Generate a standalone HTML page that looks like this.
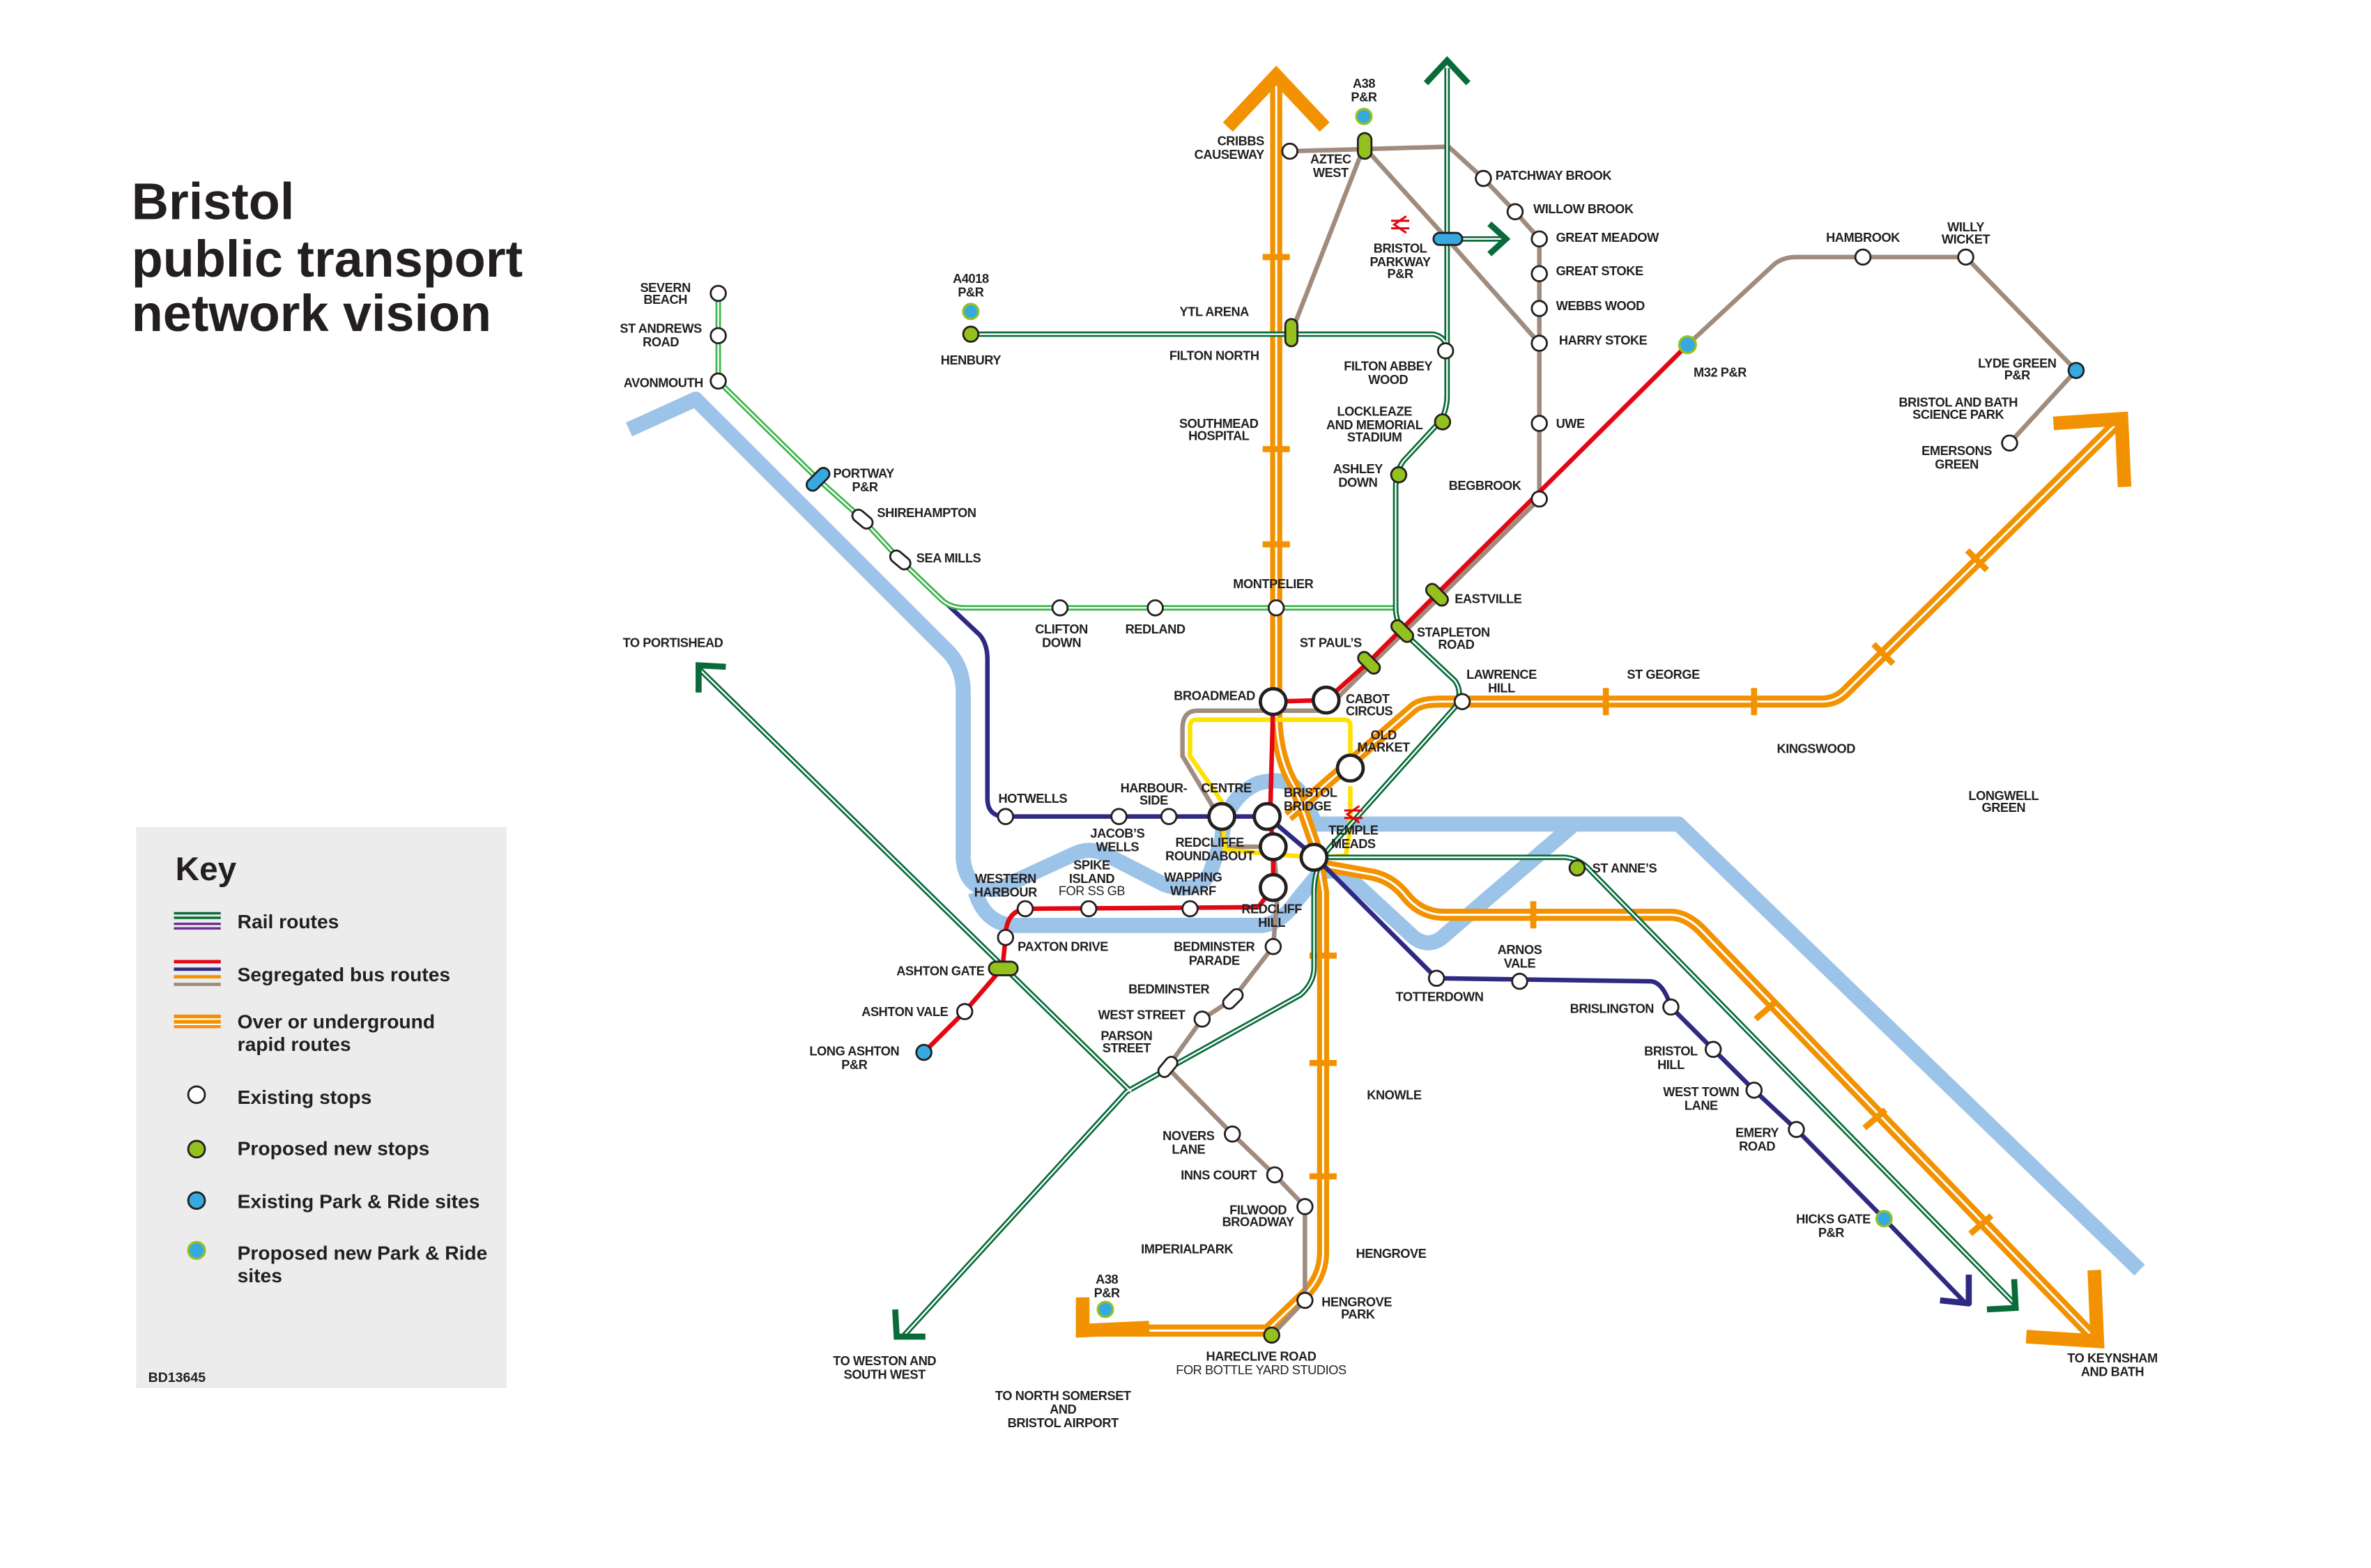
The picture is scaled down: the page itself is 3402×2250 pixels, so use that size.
<!DOCTYPE html>
<html><head><meta charset="utf-8"><style>
html,body{margin:0;padding:0;background:#fff;}
svg{display:block;}
text{font-family:"Liberation Sans",Arial,sans-serif;font-weight:bold;fill:#231f20;}
.l{font-size:8.4px;letter-spacing:-0.2px;}
.n{font-weight:normal;}
</style></head><body>
<svg width="3402" height="2250" viewBox="0 0 1568 1037" xmlns="http://www.w3.org/2000/svg">
<rect width="1568" height="1037" fill="#fff"/>
<defs>
<path id="rN" d="M844,55 L844,470 Q844,500 856,520 L870,560 L875,590 L875,828 Q875,845 862,857 L838,880 L716,880"/>
<path id="rE" d="M852,540 L935,468 Q940,464 952,464 L1205,464 Q1215,464 1222,456 L1400,280"/>
<path id="rSE" d="M872,572 L905,578 Q920,580 930,593 Q940,605 955,605 L1105,605 Q1115,605 1125,615 L1385,885"/>
<path id="gN" d="M957,45 L957,232 L957,262 Q957,270 953,278 L928,305 Q923,312 923,322 L923,402 Q923,412 930,420 L962,450 Q968,458 962,468 L880,560 Q869,572 869,590 L869,640 Q869,650 860,658 L745,722 L598,883"/>
<path id="gH" d="M642,221 L948,221 Q957,223 957,232"/>
<path id="gP" d="M462,442 L748,722"/>
<path id="gSE" d="M869,567 L1035,567 Q1045,568 1052,576 L1333,863"/>
<path id="gPW" d="M957,158 L995,158"/>
<path id="sev" d="M475,194 L475,252 L541,317 L570,343 L595,370 L622,396 Q628,402 638,402 L922,402"/>
</defs>

<!-- River -->
<g fill="none" stroke="#9cc3e8" stroke-width="10" stroke-linejoin="round">
<path d="M416,284 L460,264 L628,432 Q637,442 637,458 L637,568 Q639,590 660,588 L710,565 Q722,559 735,567 L770,585 Q790,592 800,578 L808,555 Q810,528 832,518 Q855,512 862,528 L870,545 L1110,545 L1415,840"/>
<path d="M645,590 Q652,612 672,612 L835,612 Q848,610 858,595 L872,578 Q884,572 896,584 L935,620 Q946,628 956,618 L1040,546"/>
</g>

<!-- Rapid orange -->
<g fill="none" stroke="#f39200" stroke-width="8" stroke-linejoin="round">
<use href="#rN"/><use href="#rE"/><use href="#rSE"/>
</g>
<g fill="none" stroke="#fff" stroke-width="1.4">
<use href="#rN"/><use href="#rE"/><use href="#rSE"/>
</g>
<g fill="none" stroke="#f39200" stroke-width="9">
<polyline points="812,84 844,50 876,84"/>
<polyline points="716,858 716,880 760,878"/>
<polyline points="1358,280 1403,277 1405,322"/>
<polyline points="1340,884 1387,887 1385,840"/>
</g>
<g stroke="#f39200" stroke-width="4">
<line x1="835" y1="170" x2="853" y2="170"/><line x1="835" y1="297" x2="853" y2="297"/><line x1="835" y1="360" x2="853" y2="360"/>
<line x1="866" y1="632" x2="884" y2="632"/><line x1="866" y1="703" x2="884" y2="703"/><line x1="866" y1="778" x2="884" y2="778"/>
<line x1="1062" y1="455" x2="1062" y2="473"/><line x1="1160" y1="455" x2="1160" y2="473"/>
<line x1="1239" y1="426" x2="1252" y2="439"/><line x1="1301" y1="364" x2="1314" y2="377"/>
<line x1="1014" y1="596" x2="1014" y2="614"/>
<line x1="1161" y1="674" x2="1175" y2="662"/><line x1="1233" y1="746" x2="1247" y2="734"/><line x1="1303" y1="816" x2="1317" y2="804"/>
</g>

<!-- Brown bus -->
<g fill="none" stroke="#a08c7e" stroke-width="3" stroke-linejoin="round">
<path d="M853,100 L958,97 L981,118 L1002,140 L1018,158 L1018,330 L888,458 L877,470 L792,470 Q782,470 782,482 L782,500 L806,540 L810,560 L842,560 L845,590 L842,626 L815,661 L795,674 L772,706 L815,750 L843,777 L863,798 L863,860 L841,883"/>
<path d="M902,97 L957,158 L1018,227"/>
<path d="M902,97 L854,220"/>
<path d="M1116,228 L1172,176 Q1178,170 1188,170 L1300,170 L1373,245 L1329,293"/>
</g>
<!-- Yellow loop -->
<g fill="none" stroke="#ffe000" stroke-width="3" stroke-linejoin="round">
<path d="M893,508 L893,480 Q893,476 889,476 L791,476 Q787,476 787,481 L787,500 L808,530 L810,562 L842,565 L870,567 L890,566 L893,548 L893,520"/>
</g>
<!-- Red bus -->
<g fill="none" stroke="#e30613" stroke-width="3" stroke-linejoin="round">
<path d="M1116,228 L950,393 L905,438 L877,463 L842,464 L840,540 L842,560 L842,587 L832,600 L678,601 Q665,603 665,620 L663,640 L638,669 L611,696"/>
</g>
<!-- Navy bus -->
<g fill="none" stroke="#2e2a82" stroke-width="3" stroke-linejoin="round">
<path d="M541,317 L570,343 L595,370 L648,420 Q653,426 653,436 L653,528 Q653,540 665,540 L838,540 L870,567 L950,647 L1092,649 Q1100,650 1105,666 L1133,694 L1160,721 L1188,747 L1246,806 L1300,862"/>
<polyline points="1283,860 1302,862 1302,843" fill="none" stroke="#2e2a82" stroke-width="4"/>
</g>

<!-- Rail green -->
<g fill="none" stroke="#3cb44b" stroke-width="3.6"><use href="#sev"/></g>
<g fill="none" stroke="#fff" stroke-width="1.1"><use href="#sev"/></g>
<g fill="none" stroke="#0a6b3a" stroke-width="3.6" stroke-linejoin="round">
<use href="#gN"/><use href="#gH"/><use href="#gP"/><use href="#gSE"/><use href="#gPW"/>
</g>
<g fill="none" stroke="#fff" stroke-width="1.1">
<use href="#gN"/><use href="#gH"/><use href="#gP"/><use href="#gSE"/><use href="#gPW"/>
</g>
<g fill="none" stroke="#0a6b3a" stroke-width="4">
<polyline points="943,55 957,40 971,55"/>
<polyline points="985,148 996,158 985,168"/>
<polyline points="462,458 462,440 480,441"/>
<polyline points="592,866 593,884 612,884"/>
<polyline points="1314,866 1333,865 1332,846"/>
</g>

<!-- Stops -->
<g fill="#fff" stroke="#231f20" stroke-width="1.3">
<circle cx="853" cy="100" r="5"/><circle cx="981" cy="118" r="5"/><circle cx="1002" cy="140" r="5"/><circle cx="1018" cy="158" r="5"/><circle cx="1018" cy="181" r="5"/><circle cx="1018" cy="204" r="5"/><circle cx="1018" cy="227" r="5"/><circle cx="1018" cy="280" r="5"/><circle cx="1018" cy="330" r="5"/>
<circle cx="956" cy="232" r="5"/><circle cx="475" cy="194" r="5"/><circle cx="475" cy="222" r="5"/><circle cx="475" cy="252" r="5"/>
<circle cx="701" cy="402" r="5"/><circle cx="764" cy="402" r="5"/><circle cx="844" cy="402" r="5"/><circle cx="967" cy="464" r="5"/>
<circle cx="665" cy="540" r="5"/><circle cx="740" cy="540" r="5"/><circle cx="773" cy="540" r="5"/>
<circle cx="678" cy="601" r="5"/><circle cx="720" cy="601" r="5"/><circle cx="787" cy="601" r="5"/><circle cx="665" cy="620" r="5"/>
<circle cx="638" cy="669" r="5"/><circle cx="842" cy="626" r="5"/><circle cx="795" cy="674" r="5"/>
<circle cx="950" cy="647" r="5"/><circle cx="1005" cy="649" r="5"/><circle cx="1105" cy="666" r="5"/><circle cx="1133" cy="694" r="5"/><circle cx="1160" cy="721" r="5"/><circle cx="1188" cy="747" r="5"/>
<circle cx="815" cy="750" r="5"/><circle cx="843" cy="777" r="5"/><circle cx="863" cy="798" r="5"/><circle cx="863" cy="860" r="5"/>
<circle cx="1232" cy="170" r="5"/><circle cx="1300" cy="170" r="5"/><circle cx="1329" cy="293" r="5"/>
<rect x="563" y="339" width="15" height="8" rx="4" transform="rotate(40 570 343)"/>
<rect x="588" y="366" width="15" height="8" rx="4" transform="rotate(40 595 370)"/>
<rect x="808" y="657" width="15" height="8" rx="4" transform="rotate(-45 815 661)"/>
<rect x="765" y="702" width="15" height="8" rx="4" transform="rotate(-50 772 706)"/>
</g>
<g fill="#fff" stroke="#231f20" stroke-width="2.2">
<circle cx="842" cy="464" r="8.5"/><circle cx="877" cy="463" r="8.5"/><circle cx="893" cy="508" r="8.5"/><circle cx="808" cy="540" r="8.5"/><circle cx="838" cy="540" r="8.5"/><circle cx="842" cy="560" r="8.5"/><circle cx="842" cy="587" r="8.5"/><circle cx="869" cy="567" r="8.5"/>
</g>
<g fill="#95c11f" stroke="#231f20" stroke-width="1.3">
<rect x="898" y="88" width="9" height="17" rx="4.5"/>
<rect x="850" y="211" width="8" height="18" rx="4"/>
<circle cx="642" cy="221" r="5"/><circle cx="954" cy="279" r="5"/><circle cx="925" cy="314" r="5"/><circle cx="1043" cy="574" r="5"/><circle cx="841" cy="883" r="5"/>
<rect x="942" y="389" width="17" height="8" rx="4" transform="rotate(45 950 393)"/>
<rect x="919" y="413" width="17" height="8" rx="4" transform="rotate(45 927 417)"/>
<rect x="897" y="434" width="17" height="8" rx="4" transform="rotate(45 905 438)"/>
<rect x="654" y="636" width="19" height="9" rx="4.5"/>
</g>
<g fill="#36a9e1" stroke="#231f20" stroke-width="1.3">
<rect x="948" y="154" width="19" height="8" rx="4"/>
<rect x="532" y="313" width="18" height="8" rx="4" transform="rotate(-45 541 317)"/>
<circle cx="611" cy="696" r="5"/><circle cx="1373" cy="245" r="5"/>
</g>
<g fill="#36a9e1" stroke="#95c11f" stroke-width="1.5">
<circle cx="902" cy="77" r="5"/><circle cx="642" cy="206" r="5"/><circle cx="1116" cy="228" r="5.5"/><circle cx="1246" cy="806" r="5"/><circle cx="731" cy="866" r="5"/>
</g>
<!-- rail symbols -->
<g stroke="#e30613" stroke-width="1.4" fill="none">
<path d="M920,146 L932,146 M920,151 L932,151 M930,143 L922,148.5 L930,154"/>
<path d="M889,536 L901,536 M889,541 L901,541 M899,533 L891,538.5 L899,544"/>
</g>

<!-- Title -->
<text x="87" y="145" font-size="34">Bristol</text>
<text x="87" y="183" font-size="34">public transport</text>
<text x="87" y="219" font-size="34">network vision</text>

<!-- Key -->
<rect x="90" y="547" width="245" height="371" fill="#ececec"/>
<text x="116" y="582" font-size="22">Key</text>
<g stroke-width="1.6">
<line x1="115" y1="604" x2="146" y2="604" stroke="#0a6b3a"/><line x1="115" y1="607" x2="146" y2="607" stroke="#0a6b3a"/>
<line x1="115" y1="611" x2="146" y2="611" stroke="#6a2c91"/><line x1="115" y1="614" x2="146" y2="614" stroke="#6a2c91"/>
</g>
<g stroke-width="2.2">
<line x1="115" y1="636" x2="146" y2="636" stroke="#e30613"/><line x1="115" y1="641" x2="146" y2="641" stroke="#2e2a82"/>
<line x1="115" y1="646" x2="146" y2="646" stroke="#f39200"/><line x1="115" y1="651" x2="146" y2="651" stroke="#a08c7e"/>
</g>
<rect x="115" y="671" width="31" height="9" fill="#f39200"/>
<line x1="115" y1="674" x2="146" y2="674" stroke="#fff" stroke-width="1"/><line x1="115" y1="677.5" x2="146" y2="677.5" stroke="#fff" stroke-width="1"/>
<circle cx="130" cy="724" r="5.5" fill="#fff" stroke="#231f20" stroke-width="1.3"/>
<circle cx="130" cy="760" r="5.5" fill="#95c11f" stroke="#231f20" stroke-width="1.3"/>
<circle cx="130" cy="794" r="5.5" fill="#36a9e1" stroke="#231f20" stroke-width="1.3"/>
<circle cx="130" cy="827" r="5.5" fill="#36a9e1" stroke="#95c11f" stroke-width="1.5"/>
<g font-size="13">
<text x="157" y="614">Rail routes</text>
<text x="157" y="649">Segregated bus routes</text>
<text x="157" y="680">Over or underground</text>
<text x="157" y="695">rapid routes</text>
<text x="157" y="730">Existing stops</text>
<text x="157" y="764">Proposed new stops</text>
<text x="157" y="799">Existing Park &amp; Ride sites</text>
<text x="157" y="833">Proposed new Park &amp; Ride</text>
<text x="157" y="848">sites</text>
</g>
<text x="98" y="914" font-size="9">BD13645</text>

<!-- Labels -->
<g class="l">
<g text-anchor="end">
<text x="836" y="96">CRIBBS</text><text x="836" y="105">CAUSEWAY</text>
<text x="465" y="256">AVONMOUTH</text>
<text x="830" y="463">BROADMEAD</text>
<text x="651" y="645">ASHTON GATE</text>
<text x="627" y="672">ASHTON VALE</text>
<text x="1237" y="809">HICKS GATE</text>
</g>
<g text-anchor="start">
<text x="989" y="119">PATCHWAY BROOK</text>
<text x="1014" y="141">WILLOW BROOK</text>
<text x="1029" y="160">GREAT MEADOW</text>
<text x="1029" y="182">GREAT STOKE</text>
<text x="1029" y="205">WEBBS WOOD</text>
<text x="1031" y="228">HARRY STOKE</text>
<text x="1029" y="283">UWE</text>
<text x="551" y="316">PORTWAY</text>
<text x="580" y="342">SHIREHAMPTON</text>
<text x="606" y="372">SEA MILLS</text>
<text x="962" y="399">EASTVILLE</text>
<text x="937" y="421">STAPLETON</text>
<text x="890" y="465">CABOT</text><text x="890" y="473">CIRCUS</text>
<text x="849" y="527">BRISTOL</text><text x="849" y="536">BRIDGE</text>
<text x="1053" y="577">ST ANNE’S</text>
<text x="673" y="629">PAXTON DRIVE</text>
<text x="874" y="864">HENGROVE</text>
<text x="1120" y="249">M32 P&amp;R</text>
</g>
<g text-anchor="middle">
<text x="902" y="58">A38</text><text x="902" y="67">P&amp;R</text>
<text x="880" y="108">AZTEC</text><text x="880" y="117">WEST</text>
<text x="926" y="167">BRISTOL</text><text x="926" y="176">PARKWAY</text><text x="926" y="184">P&amp;R</text>
<text x="642" y="187">A4018</text><text x="642" y="196">P&amp;R</text>
<text x="803" y="209">YTL ARENA</text>
<text x="642" y="241">HENBURY</text>
<text x="803" y="238">FILTON NORTH</text>
<text x="918" y="245">FILTON ABBEY</text><text x="918" y="254">WOOD</text>
<text x="806" y="283">SOUTHMEAD</text><text x="806" y="291">HOSPITAL</text>
<text x="909" y="275">LOCKLEAZE</text><text x="909" y="284">AND MEMORIAL</text><text x="909" y="292">STADIUM</text>
<text x="898" y="313">ASHLEY</text><text x="898" y="322">DOWN</text>
<text x="982" y="324">BEGBROOK</text>
<text x="440" y="193">SEVERN</text><text x="440" y="201">BEACH</text>
<text x="437" y="220">ST ANDREWS</text><text x="437" y="229">ROAD</text>
<text x="572" y="325">P&amp;R</text>
<text x="842" y="389">MONTPELIER</text>
<text x="702" y="419">CLIFTON</text><text x="702" y="428">DOWN</text>
<text x="764" y="419">REDLAND</text>
<text x="963" y="429">ROAD</text>
<text x="880" y="428">ST PAUL’S</text>
<text x="445" y="428">TO PORTISHEAD</text>
<text x="993" y="449">LAWRENCE</text><text x="993" y="458">HILL</text>
<text x="1100" y="449">ST GEORGE</text>
<text x="915" y="489">OLD</text><text x="915" y="497">MARKET</text>
<text x="1201" y="498">KINGSWOOD</text>
<text x="1325" y="529">LONGWELL</text><text x="1325" y="537">GREEN</text>
<text x="683" y="531">HOTWELLS</text>
<text x="763" y="524">HARBOUR-</text><text x="763" y="532">SIDE</text>
<text x="811" y="524">CENTRE</text>
<text x="895" y="552">TEMPLE</text><text x="895" y="561">MEADS</text>
<text x="739" y="554">JACOB’S</text><text x="739" y="563">WELLS</text>
<text x="800" y="560">REDCLIFFE</text><text x="800" y="569">ROUNDABOUT</text>
<text x="665" y="584">WESTERN</text><text x="665" y="593">HARBOUR</text>
<text x="722" y="575">SPIKE</text><text x="722" y="584">ISLAND</text><text x="722" y="592" class="n">FOR SS GB</text>
<text x="789" y="583">WAPPING</text><text x="789" y="592">WHARF</text>
<text x="841" y="604">REDCLIFF</text><text x="841" y="613">HILL</text>
<text x="803" y="629">BEDMINSTER</text><text x="803" y="638">PARADE</text>
<text x="1005" y="631">ARNOS</text><text x="1005" y="640">VALE</text>
<text x="952" y="662">TOTTERDOWN</text>
<text x="773" y="657">BEDMINSTER</text>
<text x="1066" y="670">BRISLINGTON</text>
<text x="755" y="674">WEST STREET</text>
<text x="745" y="688">PARSON</text><text x="745" y="696">STREET</text>
<text x="565" y="698">LONG ASHTON</text><text x="565" y="707">P&amp;R</text>
<text x="1105" y="698">BRISTOL</text><text x="1105" y="707">HILL</text>
<text x="1125" y="725">WEST TOWN</text><text x="1125" y="734">LANE</text>
<text x="922" y="727">KNOWLE</text>
<text x="1162" y="752">EMERY</text><text x="1162" y="761">ROAD</text>
<text x="786" y="754">NOVERS</text><text x="786" y="763">LANE</text>
<text x="806" y="780">INNS COURT</text>
<text x="832" y="803">FILWOOD</text><text x="832" y="811">BROADWAY</text>
<text x="1211" y="818">P&amp;R</text>
<text x="785" y="829">IMPERIALPARK</text>
<text x="920" y="832">HENGROVE</text>
<text x="732" y="849">A38</text><text x="732" y="858">P&amp;R</text>
<text x="898" y="872">PARK</text>
<text x="834" y="900">HARECLIVE ROAD</text><text x="834" y="909" class="n">FOR BOTTLE YARD STUDIOS</text>
<text x="585" y="903">TO WESTON AND</text><text x="585" y="912">SOUTH WEST</text>
<text x="703" y="926">TO NORTH SOMERSET</text><text x="703" y="935">AND</text><text x="703" y="944">BRISTOL AIRPORT</text>
<text x="1397" y="901">TO KEYNSHAM</text><text x="1397" y="910">AND BATH</text>
<text x="1232" y="160">HAMBROOK</text>
<text x="1300" y="153">WILLY</text><text x="1300" y="161">WICKET</text>
<text x="1334" y="243">LYDE GREEN</text><text x="1334" y="251">P&amp;R</text>
<text x="1295" y="269">BRISTOL AND BATH</text><text x="1295" y="277">SCIENCE PARK</text>
<text x="1294" y="301">EMERSONS</text><text x="1294" y="310">GREEN</text>
</g>
</g>
</svg>
</body></html>
